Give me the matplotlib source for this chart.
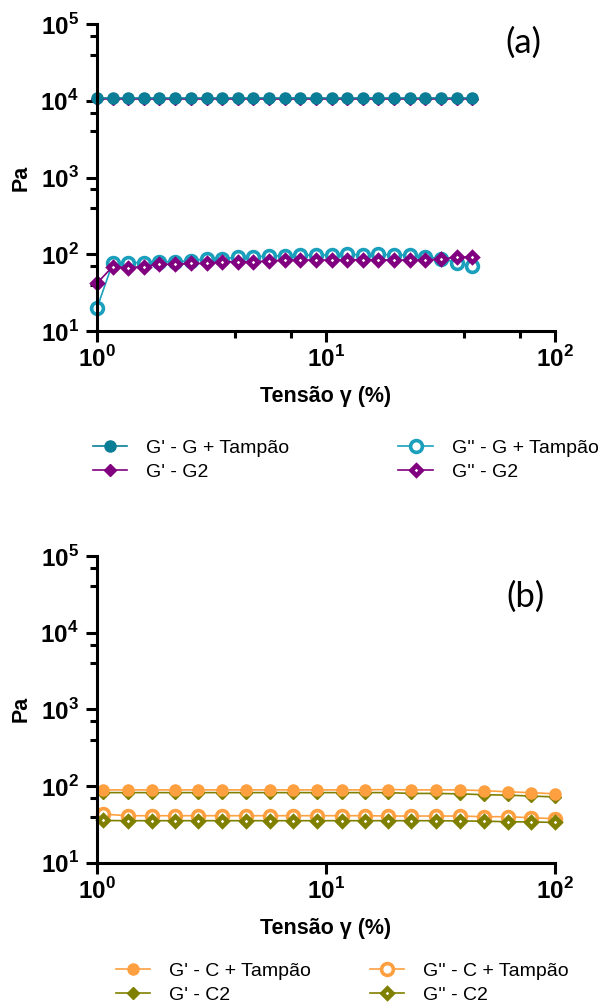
import numpy as np
import matplotlib.pyplot as plt
from matplotlib.ticker import LogLocator, NullFormatter, FuncFormatter, NullLocator

plt.rcParams['font.family'] = ['Liberation Sans', 'DejaVu Sans']
plt.rcParams['mathtext.fontset'] = 'custom'
plt.rcParams['mathtext.rm'] = 'Liberation Sans:bold'
plt.rcParams['mathtext.bf'] = 'Liberation Sans:bold'

# %% (a) amplitude sweep - G gels
strain_a = [1.00, 1.17, 1.37, 1.60, 1.87, 2.20, 2.57, 3.01, 3.52, 4.11, 4.82, 5.64, 6.59,
            7.71, 9.04, 10.6, 12.4, 14.5, 16.9, 19.8, 23.2, 27.1, 31.8, 37.2, 43.5]
gp_G_tampao = [10800, 10800, 10800, 10800, 10800, 10800, 10800, 10800, 10800, 10800, 10800, 10800, 10800,
               10800, 10800, 10800, 10800, 10800, 10800, 10800, 10800, 10800, 10800, 10800, 10800]
gpp_G_tampao = [20, 76, 78, 78, 80, 80, 82, 88, 88, 91, 93, 95, 96,
                97, 98, 98, 100, 98, 100, 98, 98, 93, 88, 78, 70]
gp_G2 = [10400, 10400, 10400, 10400, 10400, 10400, 10400, 10400, 10400, 10400, 10400, 10400, 10400,
         10400, 10400, 10400, 10400, 10400, 10400, 10400, 10400, 10400, 10400, 10400, 10400]
gpp_G2 = [42, 69, 67, 69, 74, 74, 76, 76, 80, 80, 80, 82, 84,
          84, 84, 84, 85, 85, 85, 84, 84, 84, 87, 91, 93]

# %% (b) amplitude sweep - C gels
strain_b = [1.06, 1.36, 1.73, 2.19, 2.77, 3.53, 4.48, 5.70, 7.19, 9.16,
            11.7, 14.8, 18.7, 23.6, 30.1, 38.6, 49.0, 62.1, 78.7, 100]
gp_C_tampao = [89, 89, 89, 89, 89, 89, 89, 89, 89, 89,
               89, 89, 90, 89, 89, 89, 87, 84, 82, 79]
gpp_C_tampao = [43, 41, 41, 41, 41, 41, 41, 41, 41, 41,
                41, 41, 40.6, 40.6, 40.6, 40.6, 39.8, 39.8, 38.6, 37.5]
gp_C2 = [82, 82, 82, 82, 82, 82, 82, 82, 82, 82,
         82, 82, 82, 80, 80, 79, 77, 76, 74, 72]
gpp_C2 = [35.5, 35.3, 35.3, 35.3, 35.3, 35.3, 35.3, 35.3, 35.3, 35.3,
          35.3, 35.3, 35.3, 35.3, 35.3, 35.0, 34.8, 34.2, 34.0, 33.5]

teal = '#0a7e96'
teal2 = '#1a9fbc'
purple = '#800080'
orange = '#ffa040'
olive = '#808000'


def pow10(v, pos):
    return r'$10^{%d}$' % int(round(np.log10(v)))


def style_axes(ax, minor_x=True):
    ax.set_xscale('log')
    ax.set_yscale('log')
    ax.set_xlim(1, 100)
    ax.set_ylim(10, 1e5)
    for s in ['top', 'right']:
        ax.spines[s].set_visible(False)
    for s in ['left', 'bottom']:
        ax.spines[s].set_linewidth(2.2)
    ax.xaxis.set_major_locator(LogLocator(base=10, numticks=5))
    ax.yaxis.set_major_locator(LogLocator(base=10, numticks=6))
    if minor_x:
        ax.xaxis.set_minor_locator(LogLocator(base=10, subs=(4, 7), numticks=5))
    else:
        ax.xaxis.set_minor_locator(NullLocator())
    ax.yaxis.set_minor_locator(LogLocator(base=10, subs=(4, 7), numticks=6))
    ax.xaxis.set_major_formatter(FuncFormatter(pow10))
    ax.yaxis.set_major_formatter(FuncFormatter(pow10))
    ax.xaxis.set_minor_formatter(NullFormatter())
    ax.yaxis.set_minor_formatter(NullFormatter())
    ax.tick_params(which='major', length=8, width=2.2, labelsize=17.5, pad=3)
    ax.tick_params(which='minor', length=5, width=2.2)
    ax.tick_params(axis='y', which='major', pad=5)
    ax.set_ylabel('Pa', fontsize=15.5, fontweight='bold', labelpad=6)
    ax.set_xlabel('Tensão γ (%)', fontsize=15.5, fontweight='bold', labelpad=10)


fig = plt.figure(figsize=(5.98, 10.05), dpi=100)
ax1 = fig.add_axes([0.1622, 0.6706, 0.7659, 0.3055])
ax2 = fig.add_axes([0.1622, 0.1416, 0.7659, 0.3052])

# panel a
l2, = ax1.plot(strain_a, gp_G2, '-D', color=purple, lw=1.2, ms=6, clip_on=False)
l1, = ax1.plot(strain_a, gp_G_tampao, '-o', color=teal, lw=1.2, ms=8, clip_on=False)
l3, = ax1.plot(strain_a, gpp_G_tampao, '-o', color=teal2, lw=1.2, ms=8.5, mfc='white',
               mew=2.6, clip_on=False)
l4, = ax1.plot(strain_a, gpp_G2, '-D', color=purple, lw=1.2, ms=5, mfc='white',
               mew=3.3, clip_on=False)
style_axes(ax1)
ax1.text(0.93, 0.94, '(a)', transform=ax1.transAxes, fontsize=25, family='Lato',
         ha='center', va='center')
fig.legend([l1, l2, l3, l4],
           ["G' - G + Tampão", "G' - G2", "G'' - G + Tampão", "G'' - G2"],
           ncol=2, loc='upper left', bbox_to_anchor=(93 / 598, 1 - 439 / 1005),
           frameon=False, fontsize=14, borderpad=0, borderaxespad=0,
           handlelength=1.75, handletextpad=1.0, columnspacing=5.6, labelspacing=0.35)

# panel b
m2, = ax2.plot(strain_b, gp_C2, '-D', color=olive, lw=1.2, ms=6, clip_on=False)
m1, = ax2.plot(strain_b, gp_C_tampao, '-o', color=orange, lw=1.2, ms=8, clip_on=False)
m3, = ax2.plot(strain_b, gpp_C_tampao, '-o', color=orange, lw=1.2, ms=8.5, mfc='white',
               mew=2.6, clip_on=False)
m4, = ax2.plot(strain_b, gpp_C2, '-D', color=olive, lw=1.2, ms=5, mfc='white',
               mew=3.3, clip_on=False)
style_axes(ax2, minor_x=False)
ax2.text(0.935, 0.866, '(b)', transform=ax2.transAxes, fontsize=25, family='Lato',
         ha='center', va='center')
fig.legend([m1, m2, m3, m4],
           ["G' - C + Tampão", "G' - C2", "G'' - C + Tampão", "G'' - C2"],
           ncol=2, loc='upper left', bbox_to_anchor=(116 / 598, 1 - 962 / 1005),
           frameon=False, fontsize=14, borderpad=0, borderaxespad=0,
           handlelength=1.75, handletextpad=1.0, columnspacing=3.0, labelspacing=0.35)

fig.savefig('out.png', dpi=100)
